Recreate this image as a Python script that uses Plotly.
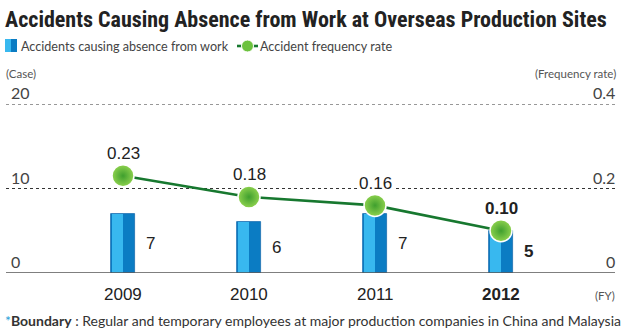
import plotly.graph_objects as go

# Fiscal years and values
years = [2009, 2010, 2011, 2012]
year_labels = ["2009", "2010", "2011", "2012"]
accidents = [7, 6, 7, 5]
freq_rate = [0.23, 0.18, 0.16, 0.10]
freq_labels = ["0.23", "0.18", "0.16", "0.10"]

left_ticks = [0, 10, 20]
left_tick_labels = ["0", "10", "20"]
right_ticks = [0, 0.2, 0.4]
right_tick_labels = ["0", "0.2", "0.4"]

NUM_FONT = "Liberation Sans, Arial, sans-serif"
TXT_FONT = "Lato, Open Sans, sans-serif"
BAR_W = 0.19

W, H = 621, 331
ML, MR, MT, MB = 6, 6, 104, 58
pw, ph = W - ML - MR, H - MT - MB


def px_x(p):
    return (p - ML) / pw


def px_y(p):
    return (H - MB - p) / ph


fig = go.Figure()

# bars: dark right half underneath, lighter left half on top
fig.add_trace(go.Bar(
    x=years, y=accidents, width=BAR_W, offset=-BAR_W / 2,
    marker=dict(color="#0b7cc3", line=dict(color="#1b6fb0", width=0.8)),
    hoverinfo="skip", showlegend=False,
))
fig.add_trace(go.Bar(
    x=years, y=accidents, width=BAR_W * 0.47, offset=-BAR_W / 2 + 0.006,
    marker=dict(color="#38b8ef", line=dict(width=0)),
    hoverinfo="skip", showlegend=False,
))

# frequency-rate line on the secondary axis
fig.add_trace(go.Scatter(
    x=years, y=freq_rate, yaxis="y2", mode="lines+markers",
    line=dict(color="#17782f", width=2.6),
    marker=dict(size=22, color="#8ed24e",
                gradient=dict(type="radial", color="#3f9f2e"),
                line=dict(color="white", width=1.5)),
    cliponaxis=False, hoverinfo="skip", showlegend=False,
))

ann = []
# bar value labels, right of each bar at half height
for i, (x, v) in enumerate(zip(years, accidents)):
    bold = i == len(years) - 1
    ann.append(dict(x=x + 0.22, y=v / 2, xref="x", yref="y", text=f"<b>{v}</b>" if bold else str(v),
                    showarrow=False, font=dict(family=NUM_FONT, size=17, color="#222")))
# rate labels above markers
for i, (x, v, t) in enumerate(zip(years, freq_rate, freq_labels)):
    bold = i == len(years) - 1
    ann.append(dict(x=x, y=v, xref="x", yref="y2", text=f"<b>{t}</b>" if bold else t,
                    yshift=22, showarrow=False, bgcolor="white", borderpad=1,
                    font=dict(family=NUM_FONT, size=17, color="#222")))
# year labels
for i, (x, t) in enumerate(zip(years, year_labels)):
    bold = i == len(years) - 1
    ann.append(dict(x=x, y=0, xref="x", yref="y", text=f"<b>{t}</b>" if bold else t,
                    yshift=-21, showarrow=False,
                    font=dict(family=NUM_FONT, size=17, color="#222")))
# axis tick labels sitting on top of their gridlines
for v, t in zip(left_ticks, left_tick_labels):
    ann.append(dict(x=px_x(9), y=v, xref="paper", yref="y", text=t, xanchor="left",
                    yanchor="bottom", yshift=0, showarrow=False,
                    font=dict(family=TXT_FONT, size=16, color="#444")))
for v, t in zip(right_ticks, right_tick_labels):
    ann.append(dict(x=px_x(617), y=v, xref="paper", yref="y2", text=t, xanchor="right",
                    yanchor="bottom", yshift=0, showarrow=False,
                    font=dict(family=TXT_FONT, size=16, color="#444")))


def pix_note(x, y, text, size, color, anchor="left", family=TXT_FONT):
    return dict(x=px_x(x), y=px_y(y), xref="paper", yref="paper", xanchor=anchor,
                yanchor="middle", text=text, showarrow=False,
                font=dict(family=family, size=size, color=color))


# axis units
ann.append(pix_note(4, 73, "(Case)", 11.5, "#555"))
ann.append(pix_note(618, 73, "(Frequency rate)", 11.5, "#555", anchor="right"))
ann.append(pix_note(617, 295, "(FY)", 11.5, "#555", anchor="right"))

# title, legend and footnote
ann.append(pix_note(3, 20, "<b>Accidents Causing Absence from Work at Overseas Production Sites</b>", 22,
                    "#222", family="Liberation Sans Narrow, Roboto Condensed, Roboto, sans-serif"))
ann.append(pix_note(19, 46, "Accidents causing absence from work", 12.6, "#444"))
ann.append(pix_note(258, 46, "Accident frequency rate", 12.6, "#444"))
ann.append(pix_note(3, 320,
                    "<span style='color:#2a9fd8'>*</span><b>Boundary</b> : Regular and temporary employees "
                    "at major production companies in China and Malaysia", 14.0, "#333"))

shapes = [
    # dotted gridlines
    dict(type="line", xref="paper", yref="y", x0=0, x1=1, y0=20, y1=20, layer="below",
         line=dict(color="#333", width=1, dash="dot")),
    dict(type="line", xref="paper", yref="y", x0=0, x1=1, y0=10, y1=10, layer="below",
         line=dict(color="#333", width=1, dash="dot")),
    # baseline
    dict(type="line", xref="paper", yref="y", x0=0, x1=1, y0=0, y1=0,
         line=dict(color="#555", width=1.5)),
    # legend swatch (bar)
    dict(type="rect", xref="paper", yref="paper", x0=px_x(5), x1=px_x(11), y0=px_y(52), y1=px_y(39),
         fillcolor="#38b8ef", line=dict(width=0)),
    dict(type="rect", xref="paper", yref="paper", x0=px_x(11), x1=px_x(17), y0=px_y(52), y1=px_y(39),
         fillcolor="#0b7cc3", line=dict(width=0)),
    # legend swatch (line)
    dict(type="line", xref="paper", yref="paper", x0=px_x(237), x1=px_x(258), y0=px_y(46), y1=px_y(46),
         line=dict(color="#17782f", width=2.6)),
    dict(type="circle", xref="paper", yref="paper", x0=px_x(241.5), x1=px_x(253.5), y0=px_y(52), y1=px_y(40),
         fillcolor="#6cc23e", line=dict(color="white", width=1)),
]

fig.update_layout(
    width=W, height=H,
    margin=dict(l=ML, r=MR, t=MT, b=MB),
    paper_bgcolor="white", plot_bgcolor="white",
    barmode="overlay", bargap=0,
    xaxis=dict(range=[2009 - 117 / 126, 2009 - 117 / 126 + pw / 126], showgrid=False,
               showticklabels=False, zeroline=False, showline=False, fixedrange=True),
    yaxis=dict(range=[0, 20], showgrid=False, showticklabels=False, zeroline=False,
               showline=False),
    yaxis2=dict(range=[0, 0.4], overlaying="y", side="right", showgrid=False,
                showticklabels=False, zeroline=False, showline=False),
    annotations=ann, shapes=shapes, showlegend=False,
)

fig.write_html("out.html")
